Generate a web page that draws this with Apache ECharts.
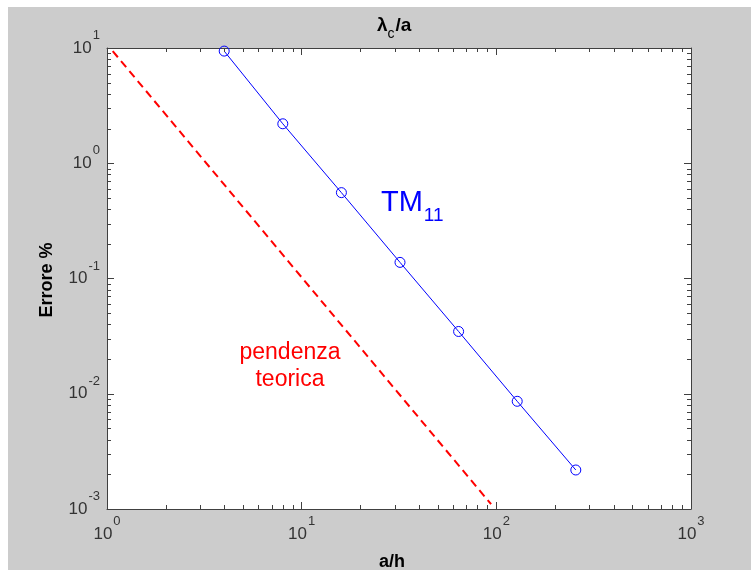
<!DOCTYPE html>
<html>
<head>
<meta charset="utf-8">
<script src="https://cdn.jsdelivr.net/npm/echarts@6/dist/echarts.min.js"></script>
<style>
  html, body { margin: 0; padding: 0; background: #ffffff; }
  #chart { width: 751px; height: 573px; }
</style>
</head>
<body>
<div id="chart"></div>
<script>
// Mesh refinement a/h and the percentage error of the TM11 cutoff ratio
const refinement = [4, 8, 16, 32, 64, 128, 256];
const errTM11 = [9.4, 2.2, 0.556, 0.138, 0.0347, 0.0086, 0.00218];

// Reference slope (second order) segment
const slopeX = [1.07, 94];
const slopeY = [9.4, 0.0011];

// Axis ranges (decades)
const xRange = [1, 1000];
const yRange = [0.001, 10];
const xDecades = [1, 10, 100];
const yDecades = [0.001, 0.01, 0.1, 1];
const minorSteps = [2, 3, 4, 5, 6, 7, 8, 9];

const axisColor = '#404040';
const font = '"Liberation Sans", Arial, sans-serif';

const xMinor = [];
xDecades.forEach(d => minorSteps.forEach(m => xMinor.push([d * m, 1])));
const yMinor = [];
yDecades.forEach(d => minorSteps.forEach(m => yMinor.push([10, d * m])));

const powLabel = v => '{b|10}{e|' + Math.round(Math.log10(v)) + '}';
const powRich = {
  b: { fontSize: 17, fontFamily: font, color: '#333333' },
  e: { fontSize: 13, fontFamily: font, color: '#333333', padding: [0, 0, 25, 1] }
};

function logAxis(range, position, labels) {
  return {
    type: 'log',
    logBase: 10,
    min: range[0],
    max: range[1],
    interval: 1,
    position: position,
    axisLine: { show: true, onZero: false, lineStyle: { color: axisColor, width: 1 } },
    axisTick: { show: true, inside: true, length: 7, lineStyle: { color: axisColor, width: 1 } },
    splitLine: { show: false },
    minorTick: { show: false },
    axisLabel: labels ? {
      show: true,
      formatter: powLabel,
      rich: powRich,
      margin: position === 'left' ? 7 : 6,
      showMinLabel: true,
      showMaxLabel: true
    } : { show: false }
  };
}

// Minor log ticks drawn on both opposite edges of the plot box
function minorTicks(isX) {
  return function (params, api) {
    const rect = params.coordSys;
    const len = 4;
    const style = { stroke: axisColor, lineWidth: 1 };
    if (isX) {
      const px = Math.round(api.coord([api.value(0), api.value(1)])[0]) + 0.5;
      return {
        type: 'group',
        children: [
          { type: 'line', shape: { x1: px, y1: rect.y + rect.height, x2: px, y2: rect.y + rect.height - len }, style: style },
          { type: 'line', shape: { x1: px, y1: rect.y, x2: px, y2: rect.y + len }, style: style }
        ]
      };
    }
    const py = Math.round(api.coord([api.value(0), api.value(1)])[1]) + 0.5;
    return {
      type: 'group',
      children: [
        { type: 'line', shape: { x1: rect.x, y1: py, x2: rect.x + len, y2: py }, style: style },
        { type: 'line', shape: { x1: rect.x + rect.width, y1: py, x2: rect.x + rect.width - len, y2: py }, style: style }
      ]
    };
  };
}

const chart = echarts.init(document.getElementById('chart'), null, { renderer: 'canvas' });

chart.setOption({
  animation: false,
  backgroundColor: '#ffffff',
  graphic: [
    { type: 'rect', z: -10, silent: true, shape: { x: 8, y: 7, width: 743, height: 563 }, style: { fill: '#cccccc' } },
    {
      type: 'text', z: 10, x: 377, y: 10,
      style: {
        text: '{b|λ}{s|c}{b|/a}',
        rich: {
          b: { fontSize: 19, fontWeight: 'bold', fontFamily: font, fill: '#000' },
          s: { fontSize: 14, fontFamily: font, fill: '#000', padding: [17, 1, 0, 0] }
        }
      }
    },
    {
      type: 'text', z: 10,
      style: { text: 'a/h', x: 392, y: 562, align: 'center', verticalAlign: 'middle', font: 'bold 18px ' + font, fill: '#000' }
    },
    {
      type: 'text', z: 10, x: 47, y: 280, rotation: Math.PI / 2,
      style: { text: 'Errore %', x: 0, y: 0, align: 'center', verticalAlign: 'middle', font: 'bold 18px ' + font, fill: '#000' }
    },
    {
      type: 'text', z: 10, x: 381, y: 203,
      style: {
        text: '{t|TM}{s|11}',
        verticalAlign: 'middle',
        rich: {
          t: { fontSize: 29, fontFamily: font, fill: '#0000ff' },
          s: { fontSize: 19, fontFamily: font, fill: '#0000ff', padding: [25, 0, 0, 1] }
        }
      }
    },
    {
      type: 'text', z: 10, x: 290, y: 366,
      style: {
        text: 'pendenza\nteorica', align: 'center', verticalAlign: 'middle',
        font: '23px ' + font, lineHeight: 27, fill: '#ff0000'
      }
    }
  ],
  grid: {
    left: 107, top: 48, width: 584, height: 461,
    show: true, backgroundColor: '#ffffff', borderWidth: 0
  },
  xAxis: [logAxis(xRange, 'bottom', true), logAxis(xRange, 'top', false)],
  yAxis: [logAxis(yRange, 'left', true), logAxis(yRange, 'right', false)],
  series: [
    {
      type: 'line',
      data: slopeX.map((x, i) => [x, slopeY[i]]),
      symbol: 'none',
      lineStyle: { color: '#ff0000', width: 2, type: [8, 5] },
      z: 3
    },
    {
      type: 'line',
      data: refinement.map((x, i) => [x, errTM11[i]]),
      symbol: 'circle',
      symbolSize: 10,
      itemStyle: { color: 'rgba(0,0,0,0)', borderColor: '#0000ff', borderWidth: 1 },
      lineStyle: { color: '#0000ff', width: 1 },
      clip: false,
      z: 4
    },
    { type: 'custom', silent: true, renderItem: minorTicks(true), data: xMinor, z: 5, clip: false },
    { type: 'custom', silent: true, renderItem: minorTicks(false), data: yMinor, z: 5, clip: false }
  ]
});
</script>
</body>
</html>
